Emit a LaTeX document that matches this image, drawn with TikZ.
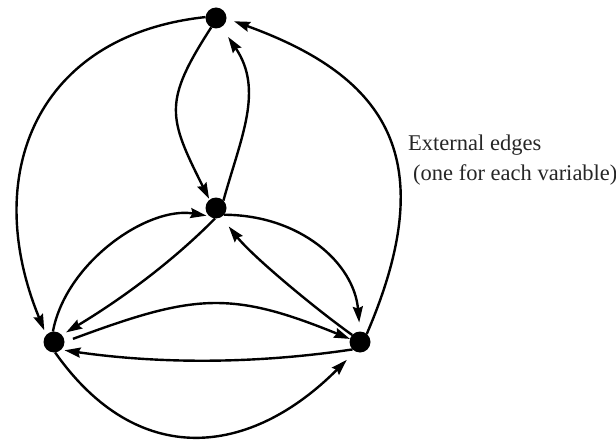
\documentclass[tikz,border=0pt]{standalone}
\usepackage{fontspec}
\setmainfont{Liberation Serif}
\usetikzlibrary{arrows.meta}
\begin{document}
\begin{tikzpicture}[x=1pt,y=-1pt,
  dot/.style={circle,fill=black,minimum size=21pt,inner sep=0pt,outer sep=0pt},
  edge/.style={line width=2.4pt,-{Stealth[length=16pt,width=10pt,inset=2pt]}},
  lbl/.style={anchor=base west,inner sep=0pt,text=black!85,font=\fontsize{22.5}{29}\selectfont}]
\useasboundingbox (0,0) rectangle (616,441);
\node[dot] (T) at (216,18) {};
\node[dot] (C) at (216,208) {};
\node[dot] (L) at (54,342) {};
\node[dot] (R) at (360,342) {};
% outer edges
\draw[edge,shorten >=5pt] (T.175) .. controls (37,35) and (-20,174) .. (L.138);
\draw[edge,shorten >=8pt] (R.50) .. controls (442,159) and (388,77) .. (T.357);
\draw[edge,shorten >=12pt] (L.276) .. controls (138,470) and (250,457) .. (R.243);
% T -- C
\draw[edge,shorten >=1pt] (T.243) .. controls (163,102) and (168,117) .. (C.128);
\draw[edge,shorten >=12pt] (C.45) .. controls (241,137) and (264,90) .. (T.301);
% C -- L
\draw[edge,shorten >=3pt] (L.96) .. controls (66,262) and (148,206) .. (C.231);
\draw[edge,shorten >=5pt] (C.265) .. controls (171,263) and (120,300) .. (L.42);
% C -- R
\draw[edge,shorten >=9pt] (C.320) .. controls (300,215) and (354,263) .. (R.90);
\draw[edge,shorten >=12pt] (R.138) .. controls (317,310) and (253,257) .. (C.300);
% L -- R
\draw[edge,shorten <=9pt] (L.0) .. controls (194,294) and (230,290) .. (R.163);
\draw[edge,shorten >=3.5pt] (R.225) .. controls (255,364) and (160,364) .. (L.312);
% label
\node[lbl] (ext1) at (408,151) {External edges};
\node[lbl] (ext2) at (413,180) {(one for each variable)};
\end{tikzpicture}
\end{document}
